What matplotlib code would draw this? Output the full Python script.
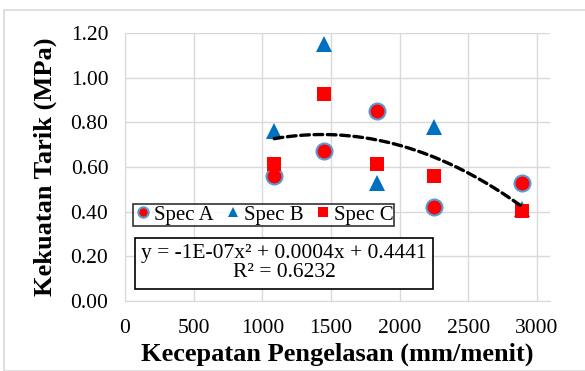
import numpy as np
import matplotlib
matplotlib.use('Agg')
from matplotlib import pyplot as plt
from matplotlib.patches import Rectangle

# Data
speed = [1087, 1446, 1832, 2249, 2894]          # mm/menit
spec_a = [0.56, 0.67, 0.85, 0.42, 0.53]          # MPa
spec_b = [0.76, 1.15, 0.53, 0.78, 0.41]
spec_c = [0.615, 0.925, 0.615, 0.56, 0.405]

eq_text = 'y = -1E-07x² + 0.0004x + 0.4441\nR² = 0.6232'
x_ticks = [0, 500, 1000, 1500, 2000, 2500, 3000]
y_ticks = [0.0, 0.2, 0.4, 0.6, 0.8, 1.0, 1.2]

plt.rcParams['font.family'] = ['Liberation Serif', 'DejaVu Serif']

fig = plt.figure(figsize=(5.85, 3.71), dpi=100)
fig.patches.append(Rectangle((4/585, 0.0), 1.0, 1 - 10/371, transform=fig.transFigure,
                             fill=False, edgecolor='#D9D9D9', lw=1.2))
ax = fig.add_axes([125/585, 70/371, 425/585, 268/371])

# scatter series
ax.plot(speed, spec_a, 'o', color='#FF0000', markeredgecolor='#5B9BD5', markeredgewidth=1.5,
        markersize=11.5, label='Spec A', zorder=3)
ax.plot(speed, spec_b, '^', color='#0070C0', markeredgewidth=0, markersize=12,
        label='Spec B', zorder=3)
ax.plot(speed, spec_c, 's', color='#FF0000', markeredgewidth=0, markersize=10,
        label='Spec C', zorder=4)

# polynomial trendline through all points
xs = np.array(speed * 3, dtype=float)
ys = np.array(spec_a + spec_b + spec_c)
coef = np.polyfit(xs, ys, 2)
xt = np.linspace(min(speed), max(speed), 200)
ax.plot(xt, np.polyval(coef, xt), color='black', lw=2.4, linestyle=(0, (2.6, 1.4)),
        dash_capstyle='round', zorder=5)

ax.set_xlim(0, 3095)
ax.set_ylim(0, 1.2)
ax.set_xticks(x_ticks)
ax.set_yticks(y_ticks)
ax.set_yticklabels([f'{v:.2f}' for v in y_ticks])
ax.tick_params(axis='y', length=0, labelsize=15.5, pad=12)
ax.tick_params(axis='x', length=0, labelsize=15.5, pad=13)
ax.grid(True, color='#D9D9D9', lw=1)
ax.set_axisbelow(True)
for s in ['top', 'right']:
    ax.spines[s].set_visible(False)
for s in ['left', 'bottom']:
    ax.spines[s].set_color('#D9D9D9')

ax.set_xlabel('Kecepatan Pengelasan (mm/menit)', fontsize=19, fontweight='bold', labelpad=3)
ax.set_ylabel('Kekuatan Tarik (MPa)', fontsize=19, fontweight='bold', labelpad=10)

leg = ax.legend(loc='upper left', bbox_to_anchor=(8/425, (301-204)/268), ncol=3,
                fontsize=15, frameon=True, fancybox=False, edgecolor='black',
                handletextpad=0.05, columnspacing=0.5, borderpad=0.05, handlelength=0.9,
                markerscale=0.65, borderaxespad=0)
leg.get_frame().set_linewidth(1.2)

ax.text(0.374, 0.14, eq_text, transform=ax.transAxes, ha='center', va='center',
        multialignment='center', fontsize=15.5, linespacing=1.0,
        bbox=dict(boxstyle='square,pad=0.3', facecolor='white', edgecolor='black', lw=1.2),
        zorder=6)

fig.savefig('out.png', dpi=100)
